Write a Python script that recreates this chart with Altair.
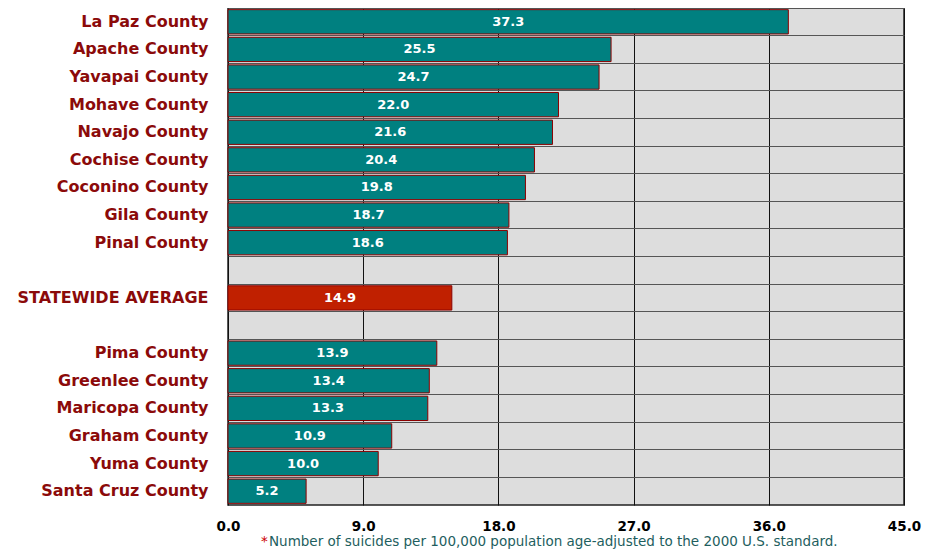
import altair as alt
import pandas as pd

categories = ["La Paz County", "Apache County", "Yavapai County", "Mohave County",
              "Navajo County", "Cochise County", "Coconino County", "Gila County",
              "Pinal County", " ", "STATEWIDE AVERAGE", "  ", "Pima County",
              "Greenlee County", "Maricopa County", "Graham County", "Yuma County",
              "Santa Cruz County"]
values = [37.3, 25.5, 24.7, 22.0, 21.6, 20.4, 19.8, 18.7, 18.6, None, 14.9, None,
          13.9, 13.4, 13.3, 10.9, 10.0, 5.2]
groups = ["county"] * 9 + ["blank", "state", "blank"] + ["county"] * 6
x_ticks = [0, 9, 18, 27, 36, 45]
footnote = "Number of suicides per 100,000 population age-adjusted to the 2000 U.S. standard."

W, H = 676, 497

df = pd.DataFrame({"category": categories, "value": values, "group": groups})
df = df[df["group"] != "blank"]

y_enc = alt.Y("category:N", sort=categories,
              scale=alt.Scale(domain=categories, paddingInner=0, paddingOuter=0),
              axis=alt.Axis(title=None, ticks=False, domain=False, grid=True,
                            bandPosition=0, gridColor="#555555", gridWidth=1,
                            labelFont="DejaVu Sans", labelFontWeight="bold",
                            labelFontSize=16, labelColor="#8B0A0A",
                            labelPadding=20, labelLimit=300))
x_enc = alt.X("value:Q", scale=alt.Scale(domain=[0, 45], nice=False),
              axis=alt.Axis(title=None, values=x_ticks, format=".1f", ticks=False,
                            domain=False, grid=True, gridColor="#111111", gridWidth=1,
                            labelFont="DejaVu Sans", labelFontWeight="bold",
                            labelFontSize=13.5, labelColor="#000000", labelPadding=14,
                            labelFlush=False))

base = alt.Chart(df)

bars = base.mark_bar(height=alt.RelativeBandSize(0.88), stroke="#8B0000",
                     strokeWidth=1).encode(
    x=x_enc, y=y_enc,
    color=alt.Color("group:N",
                    scale=alt.Scale(domain=["county", "state"],
                                    range=["#008080", "#C02000"]),
                    legend=None))

labels = base.transform_calculate(mid="datum.value / 2").mark_text(
    font="DejaVu Sans", fontWeight="bold", fontSize=13, color="white").encode(
    x=alt.X("mid:Q", scale=alt.Scale(domain=[0, 45], nice=False)),
    y=alt.Y("category:N", sort=categories),
    text=alt.Text("value:Q", format=".1f"))

note_df = pd.DataFrame({"t": [footnote]})
star = alt.Chart(note_df).mark_text(
    text="*", color="#CC0000", font="DejaVu Sans", fontSize=13.5,
    align="left", baseline="middle").encode(
    x=alt.value(33), y=alt.value(H + 37))
note = alt.Chart(note_df).mark_text(
    color="#1E5E5E", font="DejaVu Sans", fontSize=13.5,
    align="left", baseline="middle").encode(
    x=alt.value(41), y=alt.value(H + 37), text="t:N")

chart = alt.layer(bars, labels, star, note).properties(
    width=W, height=H,
    autosize=alt.AutoSizeParams(type="none"),
    padding={"left": 220, "top": 0, "right": 18, "bottom": 45}
).configure_view(fill="#DDDDDD", stroke="#222222", strokeWidth=1.5)

chart.save("out.html", embed_options={"renderer": "svg", "actions": False})
